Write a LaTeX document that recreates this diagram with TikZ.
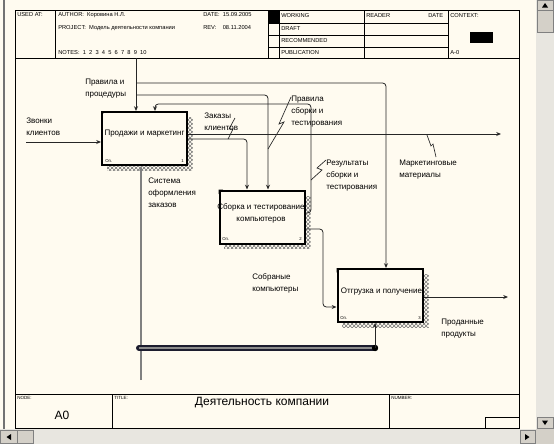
\documentclass[tikz,border=0pt]{standalone}
\usepackage{fontspec}
\setmainfont{Liberation Sans}
\usetikzlibrary{arrows.meta,patterns}
\definecolor{paper}{HTML}{FFFBF0}
\definecolor{winbar}{HTML}{D4D0C8}
\definecolor{track}{HTML}{E8E6E0}
\definecolor{linec}{HTML}{262626}
\definecolor{pipec}{HTML}{1C1C2E}
\begin{document}
\begin{tikzpicture}[x=0.75pt,y=-0.75pt,
  hdr/.style={font=\fontsize{4.3}{5}\selectfont, anchor=west, inner sep=0pt},
  ftr/.style={font=\fontsize{3.4}{4}\selectfont, anchor=north west, inner sep=0pt},
  lbl/.style={font=\fontsize{6}{9}\selectfont, align=left, anchor=west, inner sep=0pt},
  btxt/.style={font=\fontsize{6}{9}\selectfont, align=center, inner sep=0pt},
  tinyt/.style={font=\fontsize{3.2}{4}\selectfont, inner sep=0pt},
  box/.style={draw=black, line width=1.5pt, fill=paper, inner sep=0pt, minimum width=63.75pt, minimum height=39.75pt},
  shade/.style={pattern=crosshatch, pattern color=black!55},
  conn/.style={draw=linec, line width=0.6pt, rounded corners=2.5pt, -{Stealth[length=3.6pt,width=3pt]}},
  mconn/.style={draw=black!50, line width=0.8pt, -{Stealth[length=3.6pt,width=3pt]}},
  sq/.style={draw=linec, line width=0.5pt},
  frame/.style={draw=black, line width=0.7pt},
  btn/.style={draw=black!50, fill=winbar, line width=0.5pt}
]
\useasboundingbox (0,0) rectangle (554,444);
\fill[paper] (0,0) rectangle (554,444);

% window elements
\draw[black!55, line width=1.5pt] (4,0) -- (4,429);
\fill[track] (536,0) rectangle (554,429);
\draw[btn] (537,0.5) rectangle (553,10);
\fill[black] (542,7.5) -- (548,7.5) -- (545,3) -- cycle;
\draw[btn] (537,10) rectangle (553,32);
\draw[btn] (537,417) rectangle (553,428.5);
\fill[black] (542,420.5) -- (548,420.5) -- (545,425) -- cycle;
\fill[track] (0,429) rectangle (536,444);
\draw[btn] (0.5,430) rectangle (17,443.5);
\fill[black] (11,434) -- (11,440) -- (6.5,437) -- cycle;
\draw[btn] (17,430) rectangle (33,443.5);
\draw[btn] (520,430) rectangle (535,443.5);
\fill[black] (525,434) -- (525,440) -- (529.5,437) -- cycle;
\fill[winbar] (536,429) rectangle (554,444);

% page frame
\draw[frame] (15.5,10.5) rectangle (519,428);
\draw[frame] (15.5,58) -- (519,58);
\draw[frame] (15.5,394) -- (519,394);
\foreach \xx in {55,268,279,364,448} \draw[frame] (\xx,10.5) -- (\xx,58);
\foreach \yy in {23,35,47} \draw[frame] (268,\yy) -- (448,\yy);
\fill[black] (268,10.5) rectangle (279,23);
\fill[black] (470,32) rectangle (493,43);
\draw[frame] (112,394) -- (112,428);
\draw[frame] (389,394) -- (389,428);
\draw[frame] (485,428) -- (485,417) -- (519,417);

% header texts
\node[hdr] (usedat) at (17,15) {USED AT:};
\node[hdr] (author) at (58,15) {AUTHOR:\ \ Коровина Н.Л.};
\node[hdr] (project) at (58,28) {PROJECT:\ \ Модель деятельности компании};
\node[hdr] (notes) at (58,53) {NOTES:\ \ 1\ \ 2\ \ 3\ \ 4\ \ 5\ \ 6\ \ 7\ \ 8\ \ 9\ \ 10};
\node[hdr] (date) at (203,15) {DATE:\ \ 15.09.2005};
\node[hdr] (rev) at (203,28) {REV:\ \ \ \ 08.11.2004};
\node[hdr] (working) at (281,16) {WORKING};
\node[hdr] (draft) at (281,29) {DRAFT};
\node[hdr] (recom) at (281,41) {RECOMMENDED};
\node[hdr] (public) at (281,53) {PUBLICATION};
\node[hdr] (reader) at (366,16) {READER};
\node[hdr] (rdate) at (428,16) {DATE};
\node[hdr] (context) at (450,16) {CONTEXT:};
\node[hdr] (azero) at (450,53) {A-0};

% footer texts
\node[ftr] (node) at (17,396) {NODE:};
\node[ftr] (title) at (114,396) {TITLE:};
\node[ftr] (number) at (391,396) {NUMBER:};
\node[font=\fontsize{9}{10}\selectfont, inner sep=0pt] (nodeval) at (62,415) {A0};
\node[font=\fontsize{9}{10}\selectfont, inner sep=0pt] (titleval) at (262,403) {Деятельность компании};

% shadows
\fill[shade] (107,117) rectangle (192.5,170.5);
\fill[shade] (224,196) rectangle (310.5,248.5);
\fill[shade] (342,274) rectangle (428.5,327.5);

% boxes
\node[box] (b1) at (144.5,138.5) {};
\node[box] (b2) at (262,217) {};
\node[box] (b3) at (380,295.5) {};
\foreach \b in {b1,b2,b3} {
  \fill[black] (\b.north west) -- ++(4.5,0) -- ++(-4.5,4.5) -- cycle;
}
\node[btxt] (b1t) at (144.5,134) {Продажи и маркетинг};
\node[btxt] (b2t) at (261,213) {Сборка и тестирование\\компьютеров};
\node[btxt] (b3t) at (381.5,292) {Отгрузка и получение};
\node[tinyt, anchor=west] (b1o) at (105,161) {Оп.};
\node[tinyt, anchor=east] (b1n) at (184,161) {1};
\node[tinyt, anchor=west] (b2o) at (222,239) {Оп.};
\node[tinyt, anchor=east] (b2n) at (302,239) {2};
\node[tinyt, anchor=west] (b3o) at (340,318) {Оп.};
\node[tinyt, anchor=east] (b3n) at (421,318) {3};

% connectors
\coordinate (in1) at (26,142);
\draw[conn] (in1) -- (in1 -| b1.west);

\coordinate (ctop) at (136,58);
\draw[conn] (ctop) -- (ctop |- b1.north);

\coordinate (jA) at (136,83);
\coordinate (kA) at (386,83);
\draw[conn] (jA) -- (kA) -- (kA |- b3.north);

\coordinate (jB) at (136,95);
\coordinate (kB) at (268,95);
\draw[conn] (jB) -- (kB) -- (kB |- b2.north);

\coordinate (fb1) at (311,213);
\coordinate (fb2) at (311,104);
\coordinate (fb3) at (155,104);
\draw[conn] (fb1 -| b2.east) -- (fb1) -- (fb2) -- (fb3) -- (fb3 |- b1.north);

\coordinate (z1) at (247,139);
\draw[conn] (z1 -| b1.east) -- (z1) -- (z1 |- b2.north);

\coordinate (mm) at (501,134);
\draw[conn] (mm -| b1.east) -- (mm);

\coordinate (mech) at (141,380);
\draw[mconn] (mech) -- (mech |- b1.south);

\coordinate (barL) at (139,348);
\coordinate (barR) at (375,348);
\draw[pipec, line width=4.5pt, line cap=round] (barL) -- (barR);
\draw[black!45, line width=1.1pt] (barL) -- (barR);
\fill[black] (barR) circle (3.2);
\draw[conn] (barR) -- (barR |- b3.south);

\coordinate (s1) at (323,229);
\coordinate (s2) at (323,307);
\draw[conn] (s1 -| b2.east) -- (s1) -- (s2) -- (s2 -| b3.west);

\coordinate (pp) at (508,297);
\draw[conn] (pp -| b3.east) -- (pp);

% squiggles
\draw[sq] (235,118) -- (229,129) -- (233,129) -- (228,139);
\draw[sq] (291,97) -- (279,124) -- (284,122) -- (268,149);
\draw[sq] (326,160) -- (317,168) -- (322,170) -- (311,180);
\draw[sq] (427,135) -- (431,146) -- (433,144) -- (436,157);

% labels
\node[lbl] (l1) at (26,127) {Звонки\\клиентов};
\node[lbl] (l2) at (85,88.5) {Правила и\\процедуры};
\node[lbl] (l3) at (204,122) {Заказы\\клиентов};
\node[lbl] (l4) at (291,112) {Правила\\сборки и\\тестирования};
\node[lbl] (l5) at (326,175.5) {Результаты\\сборки и\\тестирования};
\node[lbl] (l6) at (399,170) {Маркетинговые\\материалы};
\node[lbl] (l7) at (148,193) {Система\\оформления\\заказов};
\node[lbl] (l8) at (252,283) {Собраные\\компьютеры};
\node[lbl] (l9) at (441,329) {Проданные\\продукты};
\end{tikzpicture}
\end{document}
